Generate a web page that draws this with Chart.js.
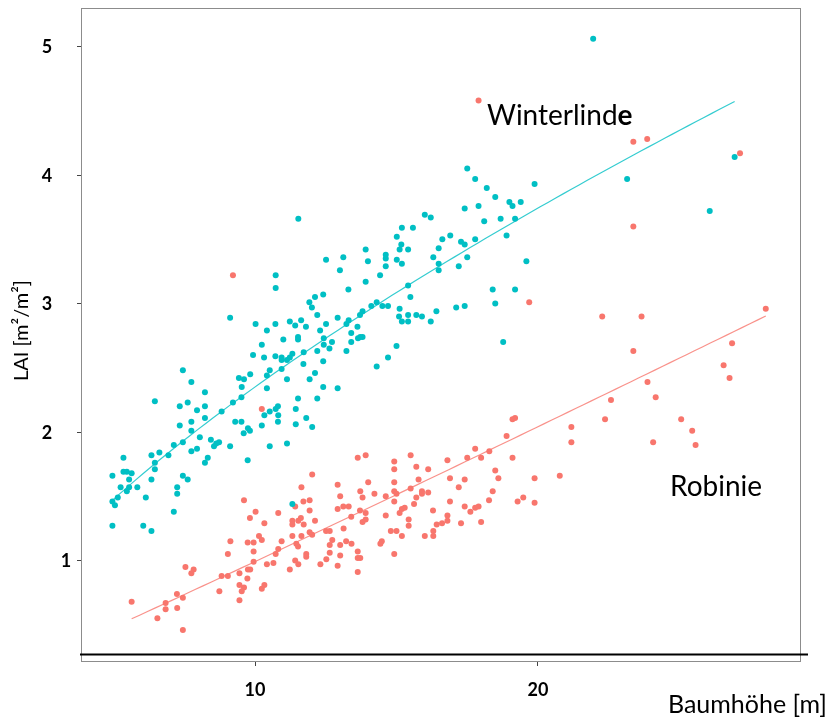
<!DOCTYPE html>
<html>
<head>
<meta charset="utf-8">
<title>LAI und Baumhöhe</title>
<script src="https://cdn.jsdelivr.net/npm/chart.js@4.4.1/dist/chart.umd.min.js"></script>
<style>
  html, body { margin: 0; padding: 0; background: #fff; }
  #wrap { width: 830px; height: 721px; }
</style>
</head>
<body>
<div id="wrap"><canvas id="laiChart" width="830" height="721"></canvas></div>
<script>
// Baumhöhe [m] / LAI [m²/m²] je Baum
const winterlinde = [
  [9.12,2.89],[10.02,2.84],[9.93,2.60],[7.45,2.48],[7.75,2.39],[8.23,2.31],[9.43,2.42],[9.61,2.41],[9.83,2.45],[9.53,2.35],[9.52,2.27],
  [11.53,3.66],[10.73,3.22],[10.73,3.12],[12.51,3.34],[13.12,3.36],[13.00,3.26],[13.91,3.42],[13.99,3.33],[13.91,3.17],[13.30,3.11],
  [14.42,3.22],[14.62,3.38],[14.62,3.35],[14.62,3.29],[15.01,3.52],[15.19,3.59],[15.17,3.46],[15.11,3.42],[15.41,3.42],[15.01,3.34],
  [15.19,3.31],[15.58,3.59],[15.41,3.14],[15.49,3.05],[15.11,2.96],[15.09,2.90],[15.19,2.86],[15.41,2.86],[15.41,2.91],[15.00,2.67],
  [14.70,2.58],[14.30,2.51],[14.70,2.98],[14.50,2.98],[14.30,3.01],[14.11,2.98],[13.80,2.94],[13.71,2.91],[13.31,2.87],[13.23,2.84],
  [12.92,2.89],[13.62,2.82],[13.40,2.77],[13.72,2.74],[13.64,2.73],[13.80,2.74],[13.40,2.70],[13.23,2.63],[12.72,2.70],[12.63,2.65],
  [12.43,2.73],[12.43,2.68],[12.51,2.84],[12.30,2.79],[12.20,2.63],[12.41,2.55],[12.20,2.91],[12.01,2.97],[11.92,3.01],[12.12,3.05],
  [12.41,3.07],[11.80,2.82],[11.63,2.87],[11.42,2.83],[11.23,2.86],[10.72,2.84],[10.42,2.79],[10.24,2.68],[11.00,2.72],[11.52,2.74],
  [11.52,2.72],[10.32,2.58],[10.72,2.59],[10.94,2.58],[10.94,2.56],[11.13,2.56],[11.23,2.58],[11.32,2.61],[11.72,2.62],[11.71,2.53],
  [10.94,2.49],[10.52,2.48],[10.42,2.44],[11.13,2.41],[12.12,2.46],[11.93,2.41],[12.41,2.35],[12.92,2.34],[10.42,2.34],[11.52,2.26],
  [12.20,2.26],
  [17.50,4.05],[17.78,3.97],[18.19,3.90],[18.49,3.83],[19.88,3.93],[18.99,3.79],[19.10,3.76],[19.39,3.79],[19.19,3.66],[18.68,3.66],
  [18.10,3.64],[17.90,3.76],[17.41,3.74],[16.00,3.69],[16.21,3.67],[16.62,3.50],[16.90,3.53],[16.49,3.43],[17.28,3.48],[17.41,3.46],
  [17.78,3.50],[18.89,3.53],[16.30,3.36],[16.49,3.31],[16.49,3.26],[17.20,3.29],[17.50,3.36],[19.59,3.33],[18.40,3.11],[19.19,3.11],
  [18.49,3.00],[17.41,2.98],[17.11,2.97],[16.41,2.94],[15.90,2.90],[15.70,2.91],[16.21,2.86],[18.77,2.70],
  [21.95,5.06],[26.95,4.14],[23.15,3.97],[26.07,3.72],
  [10.33,2.13],[10.52,2.16],[10.73,2.18],[10.81,2.20],[10.82,2.13],[10.81,2.08],[10.24,2.05],[11.44,2.18],[11.44,2.06],[11.81,2.11],
  [12.02,2.04],[10.52,1.89],[11.13,1.91],[11.32,1.44],
  [6.46,2.24],[7.34,2.20],[7.62,2.23],[8.23,2.20],[7.95,2.17],[8.82,2.16],[9.22,2.23],[8.23,2.11],[7.34,2.05],[7.75,2.08],
  [7.75,2.01],[9.30,2.08],[9.52,2.08],[9.60,1.99],[9.75,2.03],[9.82,2.01],[8.05,1.96],[8.44,1.94],[7.45,1.92],[7.13,1.90],
  [8.55,1.89],[8.63,1.91],[8.73,1.92],[9.12,1.89],[7.95,1.87],[7.75,1.85],[6.62,1.84],[6.34,1.82],[6.94,1.82],[5.35,1.80],
  [8.33,1.80],[9.74,1.78],[6.46,1.76],[6.46,1.71],[8.23,1.76],[5.35,1.69],[5.47,1.69],[5.64,1.68],[4.96,1.66],[5.55,1.63],
  [6.34,1.63],[7.45,1.66],[7.62,1.63],[5.25,1.57],[5.55,1.57],[5.47,1.54],[5.84,1.57],[7.25,1.57],[7.25,1.52],[5.15,1.49],
  [4.96,1.46],[5.05,1.43],[6.14,1.49],[7.13,1.38],[4.96,1.27],[6.05,1.27],[6.34,1.23]
];

const robinie = [
  [9.22,3.22],[17.90,4.58],[23.37,4.26],[23.86,4.28],[27.14,4.17],[23.37,3.60],[22.27,2.90],[23.66,2.90],[28.05,2.96],[19.69,3.01],
  [23.37,2.63],[26.86,2.69],[26.56,2.52],[26.77,2.42],[23.87,2.39],[24.16,2.27],[22.58,2.25],[22.37,2.10],[25.06,2.10],[25.45,2.01],
  [25.57,1.90],[24.07,1.92],[21.18,2.04],[21.18,1.92],[20.77,1.66],[19.88,1.64],[19.88,1.45],[19.48,1.49],[19.28,1.46],[19.19,2.11],
  [19.10,2.10],[18.89,1.97],[19.10,1.80],[18.28,1.85],[17.99,1.80],[17.78,1.87],[17.50,1.80],[16.80,1.78],[16.89,1.64],[17.41,1.63],
  [17.20,1.57],[18.49,1.70],[18.60,1.64],[18.40,1.54],[18.27,1.47],[16.89,1.46],[17.41,1.42],[17.61,1.38],[17.78,1.41],[17.90,1.42],
  [16.80,1.35],[16.80,1.31],[16.61,1.29],[17.28,1.29],[17.99,1.30],
  [15.50,1.82],[15.70,1.73],[16.12,1.71],[15.78,1.63],[15.50,1.56],[15.90,1.54],[15.90,1.52],[16.12,1.53],[15.70,1.49],[15.62,1.44],
  [16.29,1.39],[15.43,1.32],[15.43,1.27],[16.42,1.28],[16.30,1.23],[16.30,1.19],[16.00,1.19],
  [10.24,2.18],[13.63,1.80],[13.91,1.82],[14.92,1.77],[14.92,1.71],[12.02,1.67],[11.64,1.57],[12.92,1.59],[14.00,1.61],[14.92,1.61],
  [13.01,1.50],[13.72,1.54],[13.80,1.49],[14.22,1.52],[14.62,1.50],[14.92,1.54],[15.00,1.52],[14.92,1.46],[11.93,1.47],[11.71,1.46],
  [11.42,1.42],[11.93,1.39],[10.82,1.37],[10.02,1.38],[12.92,1.40],[13.12,1.42],[13.31,1.42],[13.40,1.34],[13.71,1.39],[13.91,1.37],
  [13.91,1.32],[13.80,1.30],[14.62,1.35],[15.19,1.40],[15.29,1.41],[15.11,1.37],[11.32,1.31],[11.32,1.28],[11.62,1.33],[11.53,1.31],
  [11.72,1.28],[12.12,1.31],[10.33,1.29],[13.13,1.25],[12.51,1.23],[12.64,1.23],[11.93,1.22],[12.02,1.20],[11.32,1.19],[11.64,1.19],
  [10.14,1.19],[10.24,1.16],[9.95,1.14],[10.94,1.15],[12.73,1.16],[13.22,1.15],[13.41,1.13],[12.64,1.12],[13.01,1.12],[11.46,1.13],
  [11.52,1.11],[10.82,1.09],[9.95,1.07],[10.73,1.05],[11.81,1.05],[11.81,1.03],[12.64,1.06],[13.01,1.04],[13.63,1.07],[13.63,1.02],
  [13.72,1.02],[14.48,1.15],[14.43,1.13],[14.80,1.23],[15.00,1.23],[15.19,1.19],[14.92,1.05],[11.42,1.00],[11.53,0.97],[11.23,0.93],
  [10.42,0.97],[10.65,0.98],[9.95,0.99],[12.31,0.97],[12.52,1.01],[12.92,0.96],[13.63,0.91],[10.33,0.81],[10.24,0.78],
  [9.61,1.47],[9.82,1.33],[9.13,1.15],[9.74,1.14],[9.04,1.05],[7.54,0.95],[7.83,0.93],[7.75,0.90],[8.82,0.88],[9.04,0.88],
  [9.45,0.90],[9.83,0.93],[9.75,0.93],[9.73,0.86],[9.45,0.81],[9.61,0.79],[9.53,0.76],[9.45,0.69],[8.74,0.76],[7.24,0.74],
  [7.45,0.71],[6.84,0.67],[5.64,0.68],[6.84,0.62],[7.25,0.63],[6.55,0.55],[7.45,0.46]
];

const xTicks = [10, 20];
const yTicks = [1, 2, 3, 4, 5];

const colLinde = '#00BFC4';
const colRobinie = '#F8766D';
const fontFam = 'Lato, "Open Sans", sans-serif';

// Potenzfunktion LAI = a * h^b: Startwerte aus log-log-Regression,
// danach nichtlineare kleinste Quadrate (Gauss-Newton)
function powerFit(pts) {
  const n = pts.length;
  let sx = 0, sy = 0, sxx = 0, sxy = 0;
  pts.forEach(([x, y]) => {
    const lx = Math.log(x), ly = Math.log(y);
    sx += lx; sy += ly; sxx += lx * lx; sxy += lx * ly;
  });
  let b = (n * sxy - sx * sy) / (n * sxx - sx * sx);
  let a = Math.exp((sy - b * sx) / n);
  for (let it = 0; it < 50; it++) {
    let j11 = 0, j12 = 0, j22 = 0, g1 = 0, g2 = 0;
    pts.forEach(([x, y]) => {
      const p = Math.pow(x, b);
      const r = y - a * p;
      const da = p, db = a * p * Math.log(x);
      j11 += da * da; j12 += da * db; j22 += db * db;
      g1 += da * r; g2 += db * r;
    });
    const det = j11 * j22 - j12 * j12;
    const stepA = (j22 * g1 - j12 * g2) / det;
    const stepB = (j11 * g2 - j12 * g1) / det;
    a += stepA; b += stepB;
    if (Math.abs(stepA) < 1e-10 && Math.abs(stepB) < 1e-10) break;
  }
  return { a, b };
}

function fitCurve(pts) {
  const { a, b } = powerFit(pts);
  const xs = pts.map(p => p[0]);
  const lo = Math.min(...xs), hi = Math.max(...xs);
  const out = [];
  for (let i = 0; i <= 80; i++) {
    const x = lo + (hi - lo) * i / 80;
    out.push({ x, y: a * Math.pow(x, b) });
  }
  return out;
}

const toXY = pts => pts.map(([x, y]) => ({ x, y }));

// Rahmen, Grundlinie, Achsenbeschriftung und Artnamen
const decorations = {
  id: 'decorations',
  afterDraw(chart) {
    const { ctx, chartArea: ca, scales } = chart;
    ctx.save();
    ctx.strokeStyle = '#8c8c8c';
    ctx.lineWidth = 1;
    ctx.strokeRect(ca.left + 0.5, ca.top + 0.5, ca.right - ca.left, ca.bottom - ca.top);

    const yb = Math.round(scales.y.getPixelForValue(0.275)) + 0.5;
    ctx.strokeStyle = '#000';
    ctx.lineWidth = 2;
    ctx.beginPath();
    ctx.moveTo(ca.left - 1, yb);
    ctx.lineTo(ca.right + 8, yb);
    ctx.stroke();

    // y-Tickbeschriftung
    ctx.fillStyle = '#000';
    ctx.font = 'bold 18px ' + fontFam;
    ctx.textAlign = 'center';
    ctx.textBaseline = 'middle';
    yTicks.forEach(v => {
      const x = v === 1 ? 66 : 47;
      ctx.fillText(String(v), x, scales.y.getPixelForValue(v) + 1);
    });

    ctx.font = '20px ' + fontFam;
    ctx.save();
    ctx.translate(22, (ca.top + ca.bottom) / 2 - 4);
    ctx.rotate(-Math.PI / 2);
    ctx.fillText('LAI [m²/m²]', 0, 0);
    ctx.restore();

    ctx.font = '25px ' + fontFam;
    ctx.textAlign = 'right';
    ctx.fillText('Baumhöhe [m]', 827, 705);

    // Artnamen
    ctx.textAlign = 'left';
    ctx.font = '28px ' + fontFam;
    const wx = 487, wy = 116;
    ctx.fillText('Winterlind', wx, wy);
    const w = ctx.measureText('Winterlind').width;
    ctx.font = 'bold 28px ' + fontFam;
    ctx.fillText('e', wx + w, wy);
    ctx.font = '28px ' + fontFam;
    ctx.fillText('Robinie', 670, 487);
    ctx.restore();
  }
};

const ctx = document.getElementById('laiChart').getContext('2d');

const laiChart = new Chart(ctx, {
  type: 'scatter',
  data: {
    datasets: [
      {
        label: 'Winterlinde Trend',
        type: 'line',
        data: fitCurve(winterlinde),
        borderColor: 'rgba(0,191,196,0.8)',
        borderWidth: 1.2,
        pointRadius: 0,
        tension: 0,
        order: 0
      },
      {
        label: 'Robinie Trend',
        type: 'line',
        data: fitCurve(robinie),
        borderColor: 'rgba(248,118,109,0.8)',
        borderWidth: 1.2,
        pointRadius: 0,
        tension: 0,
        order: 0
      },
      {
        label: 'Winterlinde',
        data: toXY(winterlinde),
        backgroundColor: colLinde,
        borderWidth: 0,
        pointRadius: 3,
        order: 1
      },
      {
        label: 'Robinie',
        data: toXY(robinie),
        backgroundColor: colRobinie,
        borderWidth: 0,
        pointRadius: 3,
        order: 1
      }
    ]
  },
  options: {
    responsive: false,
    animation: false,
    layout: { padding: { top: 8, right: 30, left: 0, bottom: 0 } },
    plugins: {
      legend: { display: false },
      tooltip: { enabled: false }
    },
    scales: {
      x: {
        type: 'linear',
        min: 3.85,
        max: 29.26,
        afterBuildTicks: scale => { scale.ticks = xTicks.map(v => ({ value: v })); },
        afterFit: scale => { scale.height = 60; },
        border: { display: false },
        grid: { drawOnChartArea: false, drawTicks: true, tickLength: 5, color: '#444' },
        ticks: {
          color: '#000',
          padding: 13,
          font: { family: fontFam, size: 18, weight: 'bold' }
        }
      },
      y: {
        type: 'linear',
        min: 0.218,
        max: 5.30,
        afterBuildTicks: scale => { scale.ticks = yTicks.map(v => ({ value: v })); },
        afterFit: scale => { scale.width = 81; },
        border: { display: false },
        grid: { drawOnChartArea: false, drawTicks: true, tickLength: 4, color: '#444' },
        ticks: { display: false }
      }
    }
  },
  plugins: [decorations]
});
</script>
</body>
</html>
